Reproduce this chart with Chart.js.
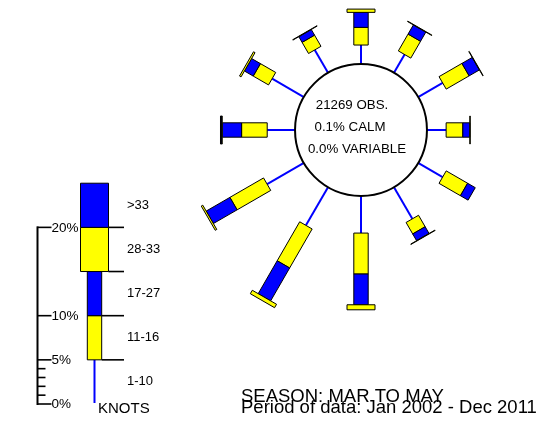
<!DOCTYPE html>
<html>
<head>
<meta charset="utf-8">
<script src="https://cdn.jsdelivr.net/npm/chart.js@4.4.1/dist/chart.umd.min.js"></script>
<style>
  html, body { margin: 0; padding: 0; background: #ffffff; }
  #wrap { width: 542px; height: 426px; }
</style>
</head>
<body>
<div id="wrap"><canvas id="rose" width="542" height="426"></canvas></div>
<script>
// Wind directions (degrees, clockwise from north)
const directions = ['360', '030', '060', '090', '120', '150', '180', '210', '240', '270', '300', '330'];

// Speed classes (knots)
const speedBands = ['1-10', '11-16', '17-27', '28-33', '>33'];

// Percentage frequency of each speed class per direction
const pct1to10   = [2.15, 2.40, 3.20, 2.17, 3.20, 4.15, 4.20, 5.00, 4.80, 3.15, 4.15, 3.00];
const pct11to16  = [2.00, 2.20, 3.00, 1.89, 2.80, 1.50, 4.64, 5.10, 4.40, 2.90, 2.00, 1.46];
const pct17to27  = [1.70, 1.20, 1.34, 0.79, 1.00, 0.88, 3.48, 4.30, 3.10, 2.19, 1.15, 0.74];
const pct28to33  = [0.37, 0.05, 0.05, 0.05, 0.00, 0.05, 0.57, 0.45, 0.20, 0.10, 0.20, 0.05];
const pctOver33  = [0.00, 0.00, 0.00, 0.00, 0.00, 0.00, 0.00, 0.00, 0.00, 0.10, 0.00, 0.00];

// Summary figures shown in the calm circle
const obsCount = 21269;
const calmPct = 0.1;
const variablePct = 0.0;

// Key scale
const keyTicks = [0, 1, 2, 3, 4, 5, 10, 20];
const keyTickLabels = ['0%', '', '', '', '', '5%', '10%', '20%'];
const keyEdges = [0, 5, 10, 15, 20, 25];

// Captions
const seasonLabel = 'SEASON: MAR TO MAY';
const periodLabel = 'Period of data: Jan 2002 - Dec 2011';

const bandValues = [pct1to10, pct11to16, pct17to27, pct28to33, pctOver33];

const YELLOW = '#ffff00';
const BLUE = '#0000ff';
const FONT = '"Liberation Sans", Arial, Helvetica, sans-serif';

// band style: 0 = thin line, otherwise box half-width and colour
const bandStyle = [
  { line: true },
  { half: 7.2, color: YELLOW },
  { half: 7.2, color: BLUE },
  { half: 14, color: YELLOW },
  { half: 14, color: BLUE }
];

function quad(scale, i, from, to, half) {
  const a = scale.getPointPositionForValue(i, from);
  const b = scale.getPointPositionForValue(i, to);
  const nx = -Math.sin(a.angle), ny = Math.cos(a.angle);
  return [
    [a.x + nx * half, a.y + ny * half],
    [b.x + nx * half, b.y + ny * half],
    [b.x - nx * half, b.y - ny * half],
    [a.x - nx * half, a.y - ny * half]
  ];
}

function drawPoly(ctx, pts, fill) {
  ctx.beginPath();
  ctx.moveTo(pts[0][0], pts[0][1]);
  for (let k = 1; k < pts.length; k++) ctx.lineTo(pts[k][0], pts[k][1]);
  ctx.closePath();
  ctx.fillStyle = fill;
  ctx.fill();
  ctx.lineWidth = 1;
  ctx.strokeStyle = '#000000';
  ctx.stroke();
}

const windRosePlugin = {
  id: 'windRose',
  afterDraw(chart) {
    const ctx = chart.ctx;
    const r = chart.scales.r;
    const ppp = r.drawingArea / (r.max - r.min);
    ctx.save();

    // spokes
    directions.forEach((d, i) => {
      let cum = 0;
      bandValues.forEach((vals, k) => {
        const v = vals[i];
        if (v <= 0) return;
        const st = bandStyle[k];
        if (st.line) {
          const a = r.getPointPositionForValue(i, cum);
          const b = r.getPointPositionForValue(i, cum + v);
          ctx.beginPath();
          ctx.moveTo(a.x, a.y);
          ctx.lineTo(b.x, b.y);
          ctx.lineWidth = 2;
          ctx.strokeStyle = BLUE;
          ctx.stroke();
        } else {
          drawPoly(ctx, quad(r, i, cum, cum + v, st.half), st.color);
        }
        cum += v;
      });
    });

    // calm circle
    const rad = r.getDistanceFromCenterForValue(0);
    ctx.beginPath();
    ctx.arc(r.xCenter, r.yCenter, rad, 0, Math.PI * 2);
    ctx.fillStyle = '#ffffff';
    ctx.fill();
    ctx.lineWidth = 2;
    ctx.strokeStyle = '#000000';
    ctx.stroke();

    ctx.fillStyle = '#000000';
    ctx.font = '13.3px ' + FONT;
    ctx.textAlign = 'center';
    ctx.textBaseline = 'alphabetic';
    ctx.fillText(obsCount + ' OBS.', r.xCenter - 9, r.yCenter - 21);
    ctx.fillText(calmPct.toFixed(1) + '% CALM', r.xCenter - 11, r.yCenter + 1);
    ctx.fillText(variablePct.toFixed(1) + '% VARIABLE', r.xCenter - 4, r.yCenter + 23);

    // key
    const y0 = 404;
    const ky = v => y0 - v * ppp;
    const axisX = 37.5;
    const keyX = 94.5;
    ctx.strokeStyle = '#000000';
    ctx.lineWidth = 2;
    ctx.beginPath();
    ctx.moveTo(axisX, ky(0) + 1);
    ctx.lineTo(axisX, ky(keyTicks[keyTicks.length - 1]) - 1);
    ctx.stroke();
    ctx.lineWidth = 1.6;
    ctx.font = '13.5px ' + FONT;
    ctx.textAlign = 'left';
    ctx.textBaseline = 'middle';
    keyTicks.forEach((t, j) => {
      const y = ky(t);
      const major = keyTickLabels[j] !== '';
      ctx.beginPath();
      ctx.moveTo(axisX, y);
      ctx.lineTo(axisX + (major ? 14 : 8), y);
      ctx.stroke();
      if (major) ctx.fillText(keyTickLabels[j], axisX + 14, y + 0.5);
    });

    // key bands
    for (let k = 0; k < speedBands.length; k++) {
      const st = bandStyle[k];
      const yb = ky(keyEdges[k]), yt = ky(keyEdges[k + 1]);
      if (st.line) {
        ctx.beginPath();
        ctx.moveTo(keyX, yb - 1);
        ctx.lineTo(keyX, yt);
        ctx.lineWidth = 2;
        ctx.strokeStyle = BLUE;
        ctx.stroke();
      } else {
        drawPoly(ctx, [[keyX - st.half, yb], [keyX + st.half, yb], [keyX + st.half, yt], [keyX - st.half, yt]], st.color);
      }
    }
    // separators between classes
    ctx.strokeStyle = '#000000';
    ctx.lineWidth = 1.6;
    for (let k = 1; k < speedBands.length; k++) {
      const half = Math.max(bandStyle[k].half || 0, bandStyle[k - 1].half || 0);
      const y = ky(keyEdges[k]);
      ctx.beginPath();
      ctx.moveTo(keyX + half, y);
      ctx.lineTo(124, y);
      ctx.stroke();
    }
    ctx.fillStyle = '#000000';
    ctx.font = '13px ' + FONT;
    speedBands.forEach((b, k) => {
      ctx.fillText(b, 127, ky((keyEdges[k] + keyEdges[k + 1]) / 2));
    });
    ctx.font = '15px ' + FONT;
    ctx.fillText('KNOTS', 98, 409);

    // captions
    ctx.font = '18.5px ' + FONT;
    ctx.textBaseline = 'alphabetic';
    ctx.fillText(seasonLabel, 241, 401.5);
    ctx.fillText(periodLabel, 241, 412.5);

    ctx.restore();
  }
};

new Chart(document.getElementById('rose'), {
  type: 'radar',
  data: {
    labels: directions,
    datasets: speedBands.map((b, k) => ({
      label: b,
      data: bandValues[k],
      showLine: false,
      pointRadius: 0,
      pointHoverRadius: 0,
      borderWidth: 0,
      backgroundColor: 'rgba(0,0,0,0)'
    }))
  },
  options: {
    responsive: false,
    animation: false,
    events: [],
    layout: { padding: { left: 231, right: 51, top: 0, bottom: 166 } },
    plugins: { legend: { display: false }, tooltip: { enabled: false } },
    scales: {
      r: {
        min: -7.47,
        max: 7.25,
        grid: { display: false },
        angleLines: { display: false },
        pointLabels: { display: false },
        ticks: { display: false }
      }
    }
  },
  plugins: [windRosePlugin]
});
</script>
</body>
</html>
